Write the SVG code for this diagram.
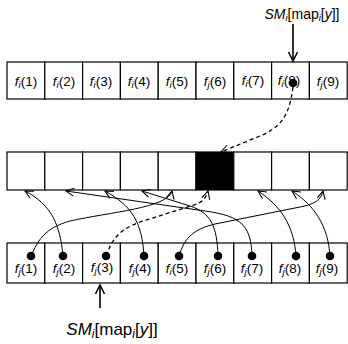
<svg xmlns="http://www.w3.org/2000/svg" width="348" height="344" viewBox="0 0 348 344">
<defs>
<style>
.cell{fill:#fff;stroke:#000;stroke-width:1.2}
.lbl{font-family:"Liberation Sans",Arial,sans-serif;font-size:13.5px;text-anchor:middle}
.it{font-style:italic}
.sub{font-size:9.5px;font-style:italic}
.con{fill:none;stroke:#000;stroke-width:1}
.dash{fill:none;stroke:#000;stroke-width:1.3;stroke-dasharray:4,3}
.dot{fill:#000}
</style>
<marker id="ah" markerUnits="userSpaceOnUse" markerWidth="12" markerHeight="12" refX="0" refY="0" viewBox="-10 -6 12 12" orient="auto">
<path d="M-8,-4 L0,0 L-8,4" fill="none" stroke="#000" stroke-width="1.1"/>
</marker>
<marker id="ah2" markerUnits="userSpaceOnUse" markerWidth="14" markerHeight="14" refX="0" refY="0" viewBox="-12 -7 14 14" orient="auto">
<path d="M-9,-4.5 L0,0 L-9,4.5" fill="none" stroke="#000" stroke-width="1.5"/>
</marker>
</defs>
<rect width="348" height="344" fill="#fff"/>

<g id="top-row">
<rect class="cell" x="7" y="62" width="37.8" height="37"/>
<rect class="cell" x="44.8" y="62" width="37.8" height="37"/>
<rect class="cell" x="82.6" y="62" width="37.8" height="37"/>
<rect class="cell" x="120.4" y="62" width="37.8" height="37"/>
<rect class="cell" x="158.2" y="62" width="37.8" height="37"/>
<rect class="cell" x="196" y="62" width="37.8" height="37"/>
<rect class="cell" x="233.8" y="62" width="37.8" height="37"/>
<rect class="cell" x="271.6" y="62" width="37.8" height="37"/>
<rect class="cell" x="309.4" y="62" width="37.8" height="37"/>
<text class="lbl" x="26" y="86"><tspan class="it">f</tspan><tspan class="sub" dy="2">i</tspan><tspan dy="-2">(1)</tspan></text>
<text class="lbl" x="64" y="86"><tspan class="it">f</tspan><tspan class="sub" dy="2">i</tspan><tspan dy="-2">(2)</tspan></text>
<text class="lbl" x="101" y="86"><tspan class="it">f</tspan><tspan class="sub" dy="2">i</tspan><tspan dy="-2">(3)</tspan></text>
<text class="lbl" x="139" y="86"><tspan class="it">f</tspan><tspan class="sub" dy="2">i</tspan><tspan dy="-2">(4)</tspan></text>
<text class="lbl" x="177" y="86"><tspan class="it">f</tspan><tspan class="sub" dy="2">i</tspan><tspan dy="-2">(5)</tspan></text>
<text class="lbl" x="215" y="86"><tspan class="it">f</tspan><tspan class="sub" dy="2">j</tspan><tspan dy="-2">(6)</tspan></text>
<text class="lbl" x="253" y="85"><tspan class="it">f</tspan><tspan class="sub" dy="2">i</tspan><tspan dy="-2">(7)</tspan></text>
<text class="lbl" x="289" y="85"><tspan class="it">f</tspan><tspan class="sub" dy="2">i</tspan><tspan dy="-2">(8)</tspan></text>
<text class="lbl" x="328" y="86"><tspan class="it">f</tspan><tspan class="sub" dy="2">j</tspan><tspan dy="-2">(9)</tspan></text>
<circle class="dot" cx="293" cy="83" r="4.3"/>
</g>

<g id="middle-row">
<rect class="cell" x="7" y="152" width="37.8" height="38"/>
<rect class="cell" x="44.8" y="152" width="37.8" height="38"/>
<rect class="cell" x="82.6" y="152" width="37.8" height="38"/>
<rect class="cell" x="120.4" y="152" width="37.8" height="38"/>
<rect class="cell" x="158.2" y="152" width="37.8" height="38"/>
<rect class="cell" x="196" y="152" width="37.8" height="38" style="fill:#000"/>
<rect class="cell" x="233.8" y="152" width="37.8" height="38"/>
<rect class="cell" x="271.6" y="152" width="37.8" height="38"/>
<rect class="cell" x="309.4" y="152" width="37.8" height="38"/>
</g>

<g id="bottom-row">
<rect class="cell" x="7" y="243" width="37.8" height="40"/>
<rect class="cell" x="44.8" y="243" width="37.8" height="40"/>
<rect class="cell" x="82.6" y="243" width="37.8" height="40"/>
<rect class="cell" x="120.4" y="243" width="37.8" height="40"/>
<rect class="cell" x="158.2" y="243" width="37.8" height="40"/>
<rect class="cell" x="196" y="243" width="37.8" height="40"/>
<rect class="cell" x="233.8" y="243" width="37.8" height="40"/>
<rect class="cell" x="271.6" y="243" width="37.8" height="40"/>
<rect class="cell" x="309.4" y="243" width="37.8" height="40"/>
<text class="lbl" x="26" y="273"><tspan class="it">f</tspan><tspan class="sub" dy="2">j</tspan><tspan dy="-2">(1)</tspan></text>
<text class="lbl" x="64" y="273"><tspan class="it">f</tspan><tspan class="sub" dy="2">j</tspan><tspan dy="-2">(2)</tspan></text>
<text class="lbl" x="102" y="272"><tspan class="it">f</tspan><tspan class="sub" dy="2">j</tspan><tspan dy="-2">(3)</tspan></text>
<text class="lbl" x="140" y="273"><tspan class="it">f</tspan><tspan class="sub" dy="2">j</tspan><tspan dy="-2">(4)</tspan></text>
<text class="lbl" x="177" y="273"><tspan class="it">f</tspan><tspan class="sub" dy="2">i</tspan><tspan dy="-2">(5)</tspan></text>
<text class="lbl" x="215" y="273"><tspan class="it">f</tspan><tspan class="sub" dy="2">j</tspan><tspan dy="-2">(6)</tspan></text>
<text class="lbl" x="252" y="273"><tspan class="it">f</tspan><tspan class="sub" dy="2">j</tspan><tspan dy="-2">(7)</tspan></text>
<text class="lbl" x="290" y="273"><tspan class="it">f</tspan><tspan class="sub" dy="2">j</tspan><tspan dy="-2">(8)</tspan></text>
<text class="lbl" x="327" y="273"><tspan class="it">f</tspan><tspan class="sub" dy="2">j</tspan><tspan dy="-2">(9)</tspan></text>
<circle class="dot" cx="31" cy="256" r="4.3"/>
<circle class="dot" cx="63" cy="256" r="4.3"/>
<circle class="dot" cx="106" cy="256" r="4.3"/>
<circle class="dot" cx="144" cy="256" r="4.3"/>
<circle class="dot" cx="179" cy="256" r="4.3"/>
<circle class="dot" cx="218" cy="256" r="4.3"/>
<circle class="dot" cx="252" cy="256" r="4.3"/>
<circle class="dot" cx="296" cy="256" r="4.3"/>
<circle class="dot" cx="330" cy="256" r="4.3"/>
</g>

<g id="label-top">
<text class="lbl" x="302" y="19" style="font-size:14px"><tspan class="it">SM</tspan><tspan class="sub" dy="2">i</tspan><tspan dy="-2">[map</tspan><tspan class="sub" dy="2">i</tspan><tspan dy="-2">[</tspan><tspan class="it">y</tspan><tspan>]]</tspan></text>
</g>
<g id="label-bottom">
<text class="lbl" x="112" y="335" style="font-size:17px"><tspan class="it">SM</tspan><tspan class="sub" dy="3" style="font-size:12px">i</tspan><tspan dy="-3">[map</tspan><tspan class="sub" dy="3" style="font-size:12px">i</tspan><tspan dy="-3">[</tspan><tspan class="it">y</tspan><tspan>]]</tspan></text>
</g>

<g id="connectors">
<path class="con" style="stroke-width:1.6" d="M293,24 L293,61" marker-end="url(#ah2)"/>
<path class="con" style="stroke-width:1.6" d="M100,308 L100,285" marker-end="url(#ah2)"/>
<path class="dash" d="M293,87 C289,116 282,128 255,138 L221,152" marker-end="url(#ah)"/>
<path class="con" d="M31,256 C38,240 45,228 70,221 C110,212 168,208 172,191" marker-end="url(#ah)"/>
<path class="con" d="M63,256 C60,225 52,205 25,191" marker-end="url(#ah)"/>
<path class="con" d="M252,256 C251,226 242,216 205,211 L66,191" marker-end="url(#ah)"/>
<path class="con" d="M144,256 C142,222 132,206 105,191" marker-end="url(#ah)"/>
<path class="con" d="M218,256 C217,226 211,213 190,206 L142,191" marker-end="url(#ah)"/>
<path class="dash" d="M106,256 C112,240 118,230 140,222 L194,205 C203,202 206,198 208,191" marker-end="url(#ah)"/>
<path class="con" d="M179,256 C185,236 195,229 215,224 L300,207 C315,204 321,200 323,191" marker-end="url(#ah)"/>
<path class="con" d="M296,256 C294,226 281,206 258,191" marker-end="url(#ah)"/>
<path class="con" d="M330,256 C328,226 315,206 292,191" marker-end="url(#ah)"/>
</g>
</svg>
